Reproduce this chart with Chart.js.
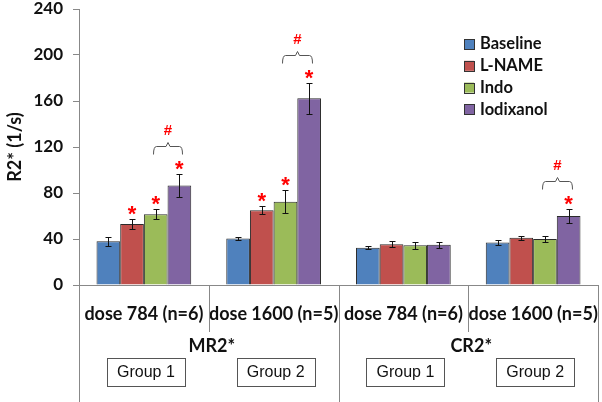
<!DOCTYPE html>
<html>
<head>
<meta charset="utf-8">
<script src="https://cdn.jsdelivr.net/npm/chart.js@4/dist/chart.umd.min.js"></script>
<style>
  html, body { margin: 0; padding: 0; background: #fff; }
</style>
</head>
<body>
<canvas id="myChart" width="602" height="402"></canvas>
<script>
// categories along the x axis
const categories = ['dose 784 (n=6)', 'dose 1600 (n=5)', 'dose 784 (n=6)', 'dose 1600 (n=5)'];
const regionLabels = ['MR2*', 'CR2*'];
const groupLabels = ['Group 1', 'Group 2', 'Group 1', 'Group 2'];
const yTicks = [0, 40, 80, 120, 160, 200, 240];

// mean R2* values and error (+/-) per series
const baseline = [38, 40.5, 32.5, 37];
const baselineErr = [4, 1.5, 1.5, 2.5];
const lname = [53, 65, 35.5, 41];
const lnameErr = [4, 3.5, 2.5, 1.5];
const indo = [61.5, 72.5, 34.5, 40];
const indoErr = [4.5, 10, 3, 2.5];
const iodixanol = [86.5, 162.5, 35, 60];
const iodixanolErr = [10, 13.5, 2.5, 6.5];

// significance marks: * over a bar, # over the Indo/Iodixanol pair
const lnameStar = [true, true, false, false];
const indoStar = [true, true, false, false];
const iodixanolStar = [true, true, false, true];
const hashMark = [true, true, false, true];

const errors = [baselineErr, lnameErr, indoErr, iodixanolErr];
const stars = [null, lnameStar, indoStar, iodixanolStar];

const extras = {
    id: 'extras',
    afterDraw(chart) {
        const ctx = chart.ctx;
        const x = chart.scales.x;
        const y = chart.scales.y;
        const area = chart.chartArea;
        ctx.save();

        // error bars
        ctx.strokeStyle = '#111';
        ctx.lineWidth = 1;
        chart.data.datasets.forEach((ds, i) => {
            const meta = chart.getDatasetMeta(i);
            meta.data.forEach((bar, j) => {
                const hi = Math.round(y.getPixelForValue(ds.data[j] + errors[i][j])) + 0.5;
                const lo = Math.round(y.getPixelForValue(ds.data[j] - errors[i][j])) + 0.5;
                const cx = Math.round(bar.x) + 0.5;
                ctx.beginPath();
                ctx.moveTo(cx, hi); ctx.lineTo(cx, lo);
                ctx.moveTo(cx - 3, hi); ctx.lineTo(cx + 3, hi);
                ctx.moveTo(cx - 3, lo); ctx.lineTo(cx + 3, lo);
                ctx.stroke();
            });
        });

        // stars
        ctx.fillStyle = '#ff0000';
        ctx.font = 'bold 22px "Liberation Sans"';
        ctx.textAlign = 'center';
        ctx.textBaseline = 'alphabetic';
        stars.forEach((flags, i) => {
            if (!flags) return;
            const meta = chart.getDatasetMeta(i);
            const ds = chart.data.datasets[i];
            flags.forEach((on, j) => {
                if (!on) return;
                const top = y.getPixelForValue(ds.data[j] + errors[i][j]);
                const cy = top - 11;
                ctx.fillText('*', meta.data[j].x, cy + 13);
            });
        });

        // brackets with #
        const indoMeta = chart.getDatasetMeta(2);
        const iodMeta = chart.getDatasetMeta(3);
        hashMark.forEach((on, j) => {
            if (!on) return;
            const top = y.getPixelForValue(iodixanol[j] + iodixanolErr[j]);
            const starY = top - 11;
            const yb = Math.round(starY - 9) + 0.5;
            const yt = yb - 8;
            const x1 = Math.round(indoMeta.data[j].x - 3) + 0.5;
            const x2 = Math.round(iodMeta.data[j].x + 3) + 0.5;
            const xm = (x1 + x2) / 2;
            ctx.strokeStyle = '#555';
            ctx.beginPath();
            ctx.moveTo(x1, yb);
            ctx.quadraticCurveTo(x1, yt, x1 + 3, yt);
            ctx.lineTo(xm - 2, yt);
            ctx.lineTo(xm, yt - 4);
            ctx.lineTo(xm + 2, yt);
            ctx.lineTo(x2 - 3, yt);
            ctx.quadraticCurveTo(x2, yt, x2, yb);
            ctx.stroke();
            ctx.fillStyle = '#ff0000';
            ctx.font = 'bold 15px "Liberation Sans"';
            ctx.textBaseline = 'middle';
            ctx.fillText('#', xm, yt - 16);
            ctx.textBaseline = 'alphabetic';
        });

        // category dividers below the x axis
        const step = x.getPixelForValue(1) - x.getPixelForValue(0);
        ctx.strokeStyle = '#888';
        ctx.lineWidth = 1;
        for (let i = 0; i <= categories.length; i++) {
            const bx = Math.round(x.getPixelForValue(0) - step / 2 + i * step) + 0.5;
            const bottom = (i % 2 === 1) ? 332 : chart.height;
            ctx.beginPath();
            ctx.moveTo(bx, area.bottom);
            ctx.lineTo(bx, bottom);
            ctx.stroke();
        }

        // MR2* / CR2*
        ctx.fillStyle = '#111';
        ctx.font = 'bold 18px Lato';
        ctx.textAlign = 'center';
        ctx.textBaseline = 'middle';
        regionLabels.forEach((lab, k) => {
            const bx = x.getPixelForValue(0) - step / 2 + (2 * k + 1) * step;
            ctx.fillText(lab, bx + 3, 346);
        });

        // group boxes
        ctx.font = '16px "Liberation Sans"';
        ctx.strokeStyle = '#555';
        groupLabels.forEach((lab, j) => {
            const cx = x.getPixelForValue(j) + 2;
            ctx.fillStyle = '#fff';
            ctx.fillRect(cx - 39, 358, 78, 28);
            ctx.strokeRect(Math.round(cx - 39) + 0.5, 358.5, 78, 28);
            ctx.fillStyle = '#111';
            ctx.fillText(lab, cx, 373);
        });

        // legend
        ctx.font = 'bold 16.5px Lato';
        ctx.textAlign = 'left';
        chart.data.datasets.forEach((ds, i) => {
            const ly = 44 + i * 21.8;
            ctx.fillStyle = ds.backgroundColor;
            ctx.fillRect(464, ly - 5, 10, 10);
            ctx.strokeStyle = '#333';
            ctx.strokeRect(464.5, Math.round(ly - 5) + 0.5, 10, 10);
            ctx.fillStyle = '#111';
            ctx.fillText(ds.label, 480, ly);
        });

        ctx.restore();
    }
};

document.addEventListener('DOMContentLoaded', () => {
    const ctx = document.getElementById('myChart').getContext('2d');
    const myChart = new Chart(ctx, {
        type: 'bar',
        data: {
            labels: categories,
            datasets: [
                { label: 'Baseline', data: baseline, backgroundColor: '#4f81bd' },
                { label: 'L-NAME', data: lname, backgroundColor: '#c0504d' },
                { label: 'Indo', data: indo, backgroundColor: '#9bbb59' },
                { label: 'Iodixanol', data: iodixanol, backgroundColor: '#8064a2' }
            ]
        },
        options: {
            responsive: false,
            animation: false,
            datasets: {
                bar: {
                    borderColor: '#2b2b2b',
                    borderWidth: 1,
                    categoryPercentage: 0.73,
                    barPercentage: 1.0
                }
            },
            layout: { padding: { top: 9, right: 4, left: 0, bottom: 0 } },
            plugins: {
                legend: { display: false },
                tooltip: { enabled: false }
            },
            scales: {
                x: {
                    grid: { display: false, drawTicks: false },
                    border: { display: true, color: '#888' },
                    ticks: {
                        color: '#111',
                        font: { family: 'Lato', weight: 'bold', size: 18 },
                        padding: 18,
                        maxRotation: 0,
                        autoSkip: false
                    },
                    afterFit(scale) {
                        scale.height = 117;
                        scale.paddingLeft = 0;
                        scale.paddingRight = 0;
                    }
                },
                y: {
                    min: 0,
                    max: 240,
                    afterBuildTicks(scale) { scale.ticks = yTicks.map(v => ({ value: v })); },
                    grid: { drawOnChartArea: false, drawTicks: true, tickLength: 6, color: '#888' },
                    border: { color: '#888' },
                    ticks: {
                        color: '#111',
                        font: { family: 'Lato', weight: 'bold', size: 17 },
                        padding: 10
                    },
                    title: {
                        display: true,
                        text: 'R2* (1/s)',
                        color: '#111',
                        font: { family: 'Lato', weight: 'bold', size: 18 },
                        padding: { top: 4, bottom: 0 }
                    },
                    afterFit(scale) {
                        scale.width = 79;
                        scale.paddingTop = 0;
                        scale.paddingBottom = 0;
                    }
                }
            }
        },
        plugins: [extras]
    });
});
</script>
</body>
</html>
